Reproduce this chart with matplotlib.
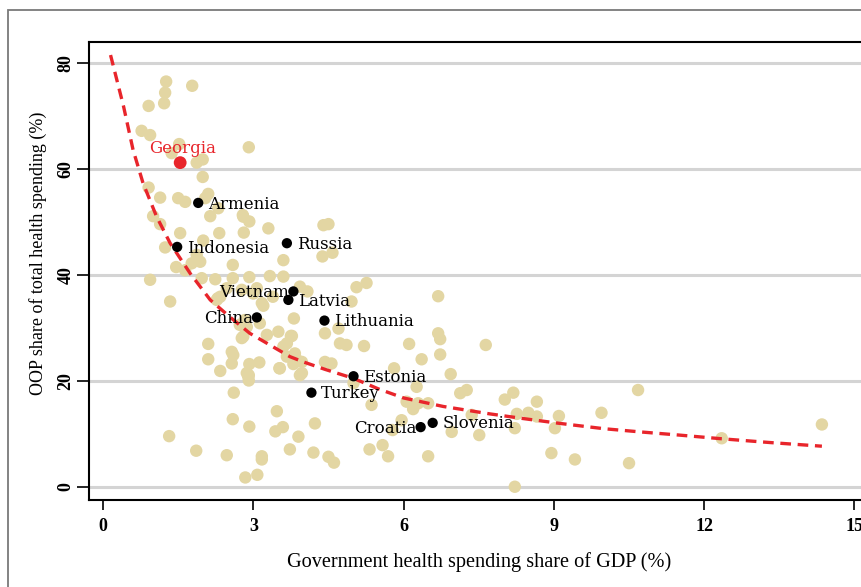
import numpy as np
import matplotlib
matplotlib.use("Agg")
import matplotlib.pyplot as plt
from matplotlib.patches import Rectangle

# background countries: government health spending (% GDP) vs OOP share (%)
gov_gdp = [1.26, 1.78, 1.24, 0.91, 1.22, 0.77, 0.94, 1.52, 2.91, 1.37,
           1.87, 1.99, 1.99, 0.91, 1.14, 1.50, 1.64, 2.10, 2.04, 2.30,
           1.00, 2.14, 2.79, 2.80, 2.92, 3.30, 1.14, 1.54, 2.32, 2.81,
           2.00, 1.24, 1.87, 1.94, 1.77, 1.46, 2.59, 1.64, 0.94, 1.97,
           2.24, 2.59, 2.92, 3.33, 3.60, 3.60, 3.00, 3.20, 3.39, 2.29,
           1.34, 2.73, 2.83, 3.50, 3.27, 2.80, 2.10, 2.57, 2.60, 2.10,
           2.57, 2.92, 3.12, 2.34, 2.87, 2.90, 3.52, 3.67, 3.67, 2.91,
           2.91, 2.61, 3.47, 2.59, 2.92, 3.44, 3.59, 1.32, 1.86, 2.47,
           3.17, 3.17, 3.73, 2.84, 3.08, 4.40, 4.50, 4.38, 4.58, 3.93,
           4.08, 5.06, 5.26, 6.69, 4.96, 3.81, 4.70, 4.43, 3.75, 4.73,
           4.86, 5.21, 6.11, 6.69, 6.73, 6.36, 6.73, 3.60, 3.83, 3.97,
           4.43, 4.56, 5.81, 6.94, 3.93, 5.00, 4.23, 3.90, 4.20, 4.50,
           4.61, 5.36, 6.06, 6.19, 6.29, 6.49, 7.13, 7.26, 5.96, 5.78,
           6.96, 7.51, 5.32, 5.58, 5.69, 6.49, 6.26, 7.64, 8.19, 8.02,
           8.66, 7.36, 8.26, 8.49, 8.66, 9.10, 9.95, 10.68, 8.22, 9.02,
           8.95, 9.42, 10.50, 8.22, 12.35, 14.35, 2.47, 2.77, 3.07, 3.17,
           2.27, 2.34, 2.87, 2.77, 3.13, 3.77, 3.53, 3.80, 3.97, 3.87]
oop_share = [76.5, 75.7, 74.4, 71.9, 72.4, 67.2, 66.4, 64.7, 64.1, 63.0,
             61.2, 61.8, 58.5, 56.5, 54.6, 54.5, 53.8, 55.3, 54.5, 52.6,
             51.1, 51.1, 51.3, 51.0, 50.1, 48.8, 49.6, 47.9, 47.9, 48.0,
             46.5, 45.2, 43.8, 42.5, 42.2, 41.5, 41.9, 40.9, 39.1, 39.4,
             39.2, 39.4, 39.6, 39.8, 42.8, 39.7, 36.5, 34.2, 35.9, 35.6,
             35.0, 30.6, 31.5, 29.3, 28.7, 28.4, 27.0, 25.5, 24.9, 24.1,
             23.3, 23.2, 23.5, 21.9, 21.5, 20.8, 22.4, 27.1, 24.6, 21.1,
             20.1, 17.8, 14.3, 12.8, 11.4, 10.5, 11.3, 9.6, 6.85, 6.0,
             5.8, 5.2, 7.1, 1.8, 2.3, 49.4, 49.6, 43.5, 44.2, 37.8,
             36.9, 37.7, 38.5, 36.0, 35.0, 31.8, 29.9, 29.0, 28.5, 27.1,
             26.8, 26.6, 27.0, 29.0, 27.9, 24.1, 25.0, 26.5, 25.2, 23.6,
             23.6, 23.3, 22.4, 21.3, 21.1, 19.6, 12.0, 9.5, 6.5, 5.7,
             4.6, 15.5, 16.1, 14.7, 15.8, 15.8, 17.7, 18.3, 12.6, 10.75,
             10.4, 9.8, 7.1, 7.9, 5.8, 5.8, 18.9, 26.8, 17.8, 16.5,
             16.1, 13.6, 13.8, 14.0, 13.3, 13.4, 14.0, 18.3, 11.1, 11.1,
             6.4, 5.2, 4.5, 0.05, 9.2, 11.8, 37.5, 37.2, 37.5, 34.7,
             35.3, 35.9, 30.2, 28.1, 30.9, 28.5, 22.4, 23.2, 21.5, 24.0]

# highlighted countries
countries = ["Georgia", "Armenia", "Indonesia", "Russia", "Vietnam", "Latvia",
             "China", "Lithuania", "Estonia", "Turkey", "Croatia", "Slovenia"]
c_gov = [1.54, 1.90, 1.48, 3.67, 3.80, 3.70, 3.07, 4.42, 5.00, 4.16, 6.34, 6.58]
c_oop = [61.2, 53.6, 45.3, 46.0, 36.9, 35.3, 32.0, 31.4, 20.9, 17.8, 11.3, 12.1]
label_side = ["top", "right", "right", "right", "left", "right",
              "left", "right", "right", "right", "left", "right"]

# fitted curve, read along its length
fit_x = [0.15, 0.41, 0.60, 0.80, 1.07, 1.34, 1.74, 2.14, 2.53, 2.93,
         3.33, 3.73, 4.00, 4.43, 5.00, 5.50, 6.00, 6.79, 7.19, 7.72,
         8.40, 9.12, 10.0, 10.72, 11.50, 12.35, 13.30, 14.35]
fit_y = [81.5, 71.8, 63.6, 57.3, 51.0, 46.0, 40.3, 35.3, 32.1, 29.0,
         26.8, 24.6, 23.6, 22.2, 20.5, 18.5, 16.8, 15.2, 14.6, 13.8,
         12.9, 12.0, 11.0, 10.4, 9.8, 9.1, 8.4, 7.7]

xticks = [0, 3, 6, 9, 12, 15]
yticks = [0, 20, 40, 60, 80]

BEIGE = "#E3D6A3"
RED = "#E8252B"
SERIF = ["Liberation Serif", "DejaVu Serif"]
LABEL_FONT = ["DejaVu Serif"]

fig = plt.figure(figsize=(8.61, 5.87), dpi=100)
ax = fig.add_axes([89 / 861, 1 - 500 / 587, (870 - 89) / 861, 458 / 587])

for y in yticks:
    ax.axhline(y, color="#D4D4D4", lw=2.2, zorder=0)

ax.scatter(gov_gdp, oop_share, s=80, color=BEIGE, edgecolors="none", zorder=2)
ax.plot(fit_x, fit_y, color=RED, lw=2.4, dashes=(3.2, 2.0), zorder=3)

for name, gx, oy, side in zip(countries, c_gov, c_oop, label_side):
    if name == "Georgia":
        ax.scatter([gx], [oy], s=85, color=RED, edgecolors="none", zorder=4)
        ax.annotate(name, (gx, oy), xytext=(2, 10), textcoords="offset points",
                    ha="center", va="center", color=RED, fontsize=12, family=LABEL_FONT, zorder=5)
        continue
    ax.scatter([gx], [oy], s=55, color="black", edgecolors="none", zorder=4)
    dx = 7 if side == "right" else -3
    ax.annotate(name, (gx, oy), xytext=(dx, -0.8), textcoords="offset points",
                ha="left" if side == "right" else "right", va="center",
                color="black", fontsize=12, family=LABEL_FONT, zorder=5)

ax.set_xlim(-0.28, 15.31)
ax.set_ylim(-2.45, 83.96)
ax.set_xticks(xticks)
ax.set_xticklabels([str(v) for v in xticks], fontsize=13, fontweight="bold", family=SERIF)
ax.set_yticks(yticks)
ax.set_yticklabels([str(v) for v in yticks], fontsize=13, fontweight="bold", family=SERIF,
                   rotation=90, va="center")
ax.tick_params(axis="x", length=7, width=1.2, pad=6)
ax.tick_params(axis="y", length=9, width=1.2, pad=1.5)
for side in ["left", "bottom", "top"]:
    ax.spines[side].set_linewidth(1.5)
ax.spines["right"].set_visible(False)

ax.set_xlabel("Government health spending share of GDP (%)", fontsize=14.6, family=SERIF, labelpad=12)
ax.set_ylabel("OOP share of total health spending (%)", fontsize=13, family=SERIF)
ax.yaxis.set_label_coords(-42 / 781, 0.539)

# outer graph frame
fig.patches.append(Rectangle((8 / 861, -0.1), 2, 1.1 - 10 / 587, transform=fig.transFigure,
                             fill=False, edgecolor="#7A7A7A", lw=1.3))

fig.savefig("out.png", dpi=100)
